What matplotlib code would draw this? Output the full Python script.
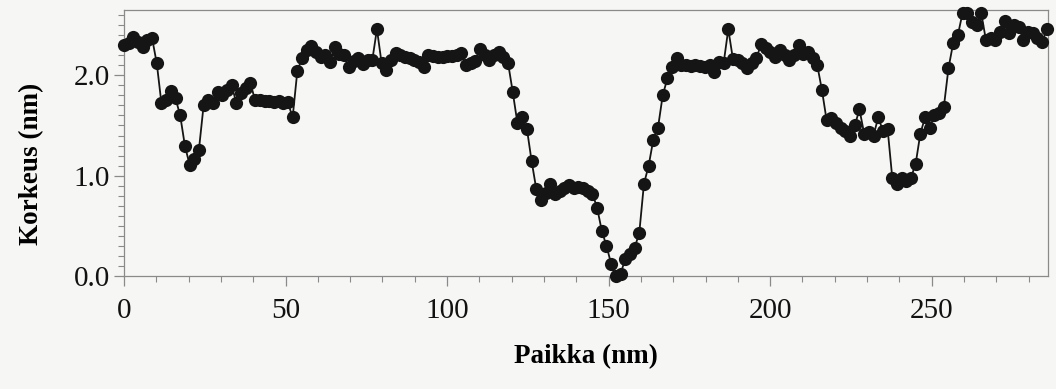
import numpy as np
import matplotlib
matplotlib.use("Agg")
import matplotlib.pyplot as plt
from matplotlib.ticker import MultipleLocator, FormatStrFormatter

# AFM-profiili: korkeus (nm), näytteistetty tasavälein
dx = 1.45
korkeus = [
    2.30, 2.32, 2.38, 2.33, 2.28, 2.35, 2.37, 2.12, 1.72, 1.75,
    1.84, 1.77, 1.60, 1.30, 1.11, 1.17, 1.26, 1.70, 1.75, 1.72,
    1.83, 1.80, 1.85, 1.90, 1.72, 1.82, 1.87, 1.92, 1.75, 1.75,
    1.74, 1.74, 1.73, 1.74, 1.72, 1.73, 1.58, 2.04, 2.17, 2.25,
    2.29, 2.23, 2.18, 2.20, 2.13, 2.28, 2.21, 2.20, 2.08, 2.14,
    2.17, 2.11, 2.15, 2.15, 2.46, 2.12, 2.05, 2.15, 2.22, 2.20,
    2.18, 2.17, 2.15, 2.13, 2.08, 2.20, 2.19, 2.18, 2.18, 2.19,
    2.19, 2.20, 2.22, 2.10, 2.12, 2.14, 2.26, 2.20, 2.15, 2.20,
    2.23, 2.18, 2.12, 1.83, 1.52, 1.58, 1.47, 1.15, 0.87, 0.76,
    0.83, 0.92, 0.82, 0.85, 0.88, 0.91, 0.88, 0.89, 0.88, 0.85,
    0.82, 0.68, 0.45, 0.30, 0.12, 0.00, 0.02, 0.17, 0.22, 0.28,
    0.43, 0.92, 1.10, 1.36, 1.48, 1.80, 1.97, 2.08, 2.17, 2.10,
    2.10, 2.09, 2.10, 2.09, 2.08, 2.10, 2.03, 2.13, 2.12, 2.46,
    2.16, 2.15, 2.12, 2.07, 2.12, 2.17, 2.31, 2.27, 2.23, 2.18,
    2.25, 2.20, 2.15, 2.20, 2.30, 2.21, 2.23, 2.17, 2.10, 1.85,
    1.55, 1.57, 1.52, 1.48, 1.45, 1.40, 1.50, 1.66, 1.42, 1.44,
    1.40, 1.58, 1.45, 1.47, 0.98, 0.92, 0.98, 0.95, 0.98, 1.12,
    1.42, 1.58, 1.48, 1.60, 1.62, 1.68, 2.07, 2.32, 2.40, 2.62,
    2.62, 2.53, 2.50, 2.62, 2.35, 2.37, 2.35, 2.43, 2.54, 2.42,
    2.50, 2.48, 2.35, 2.43, 2.42, 2.37, 2.33, 2.46,
]
paikka = np.arange(len(korkeus)) * dx

bg = "#f6f6f4"
plt.rcParams["font.family"] = ["Liberation Serif", "DejaVu Serif"]

fig = plt.figure(figsize=(10.56, 3.89), dpi=100, facecolor=bg)
ax = fig.add_axes([0.1174, 0.2905, 0.875, 0.6835], facecolor=bg)

ax.plot(paikka, korkeus, "-o", color="#151515", lw=1.3, ms=9.5,
        markeredgewidth=0, clip_on=False, zorder=3)

ax.set_xlim(0, 286)
ax.set_ylim(0, 2.65)
ax.xaxis.set_major_locator(MultipleLocator(50))
ax.xaxis.set_minor_locator(MultipleLocator(10))
ax.yaxis.set_major_locator(MultipleLocator(1.0))
ax.yaxis.set_minor_locator(MultipleLocator(0.1))
ax.yaxis.set_major_formatter(FormatStrFormatter("%.1f"))

for s in ax.spines.values():
    s.set_color("#8a8a8a")
    s.set_linewidth(0.9)
ax.tick_params(which="major", direction="out", length=7, width=0.9,
               color="#8a8a8a", labelsize=21, labelcolor="#111111")
ax.tick_params(which="minor", direction="out", length=4, width=0.8,
               color="#8a8a8a")
ax.tick_params(axis="x", which="major", pad=9)
ax.tick_params(axis="y", which="major", pad=3)

ax.set_xlabel("Paikka (nm)", fontsize=19.5, fontweight="bold", labelpad=14)
ax.set_ylabel("Korkeus (nm)", fontsize=19.5, fontweight="bold")
ax.yaxis.set_label_coords(-0.086, 0.42)

fig.savefig("out.png", dpi=100, facecolor=bg)
